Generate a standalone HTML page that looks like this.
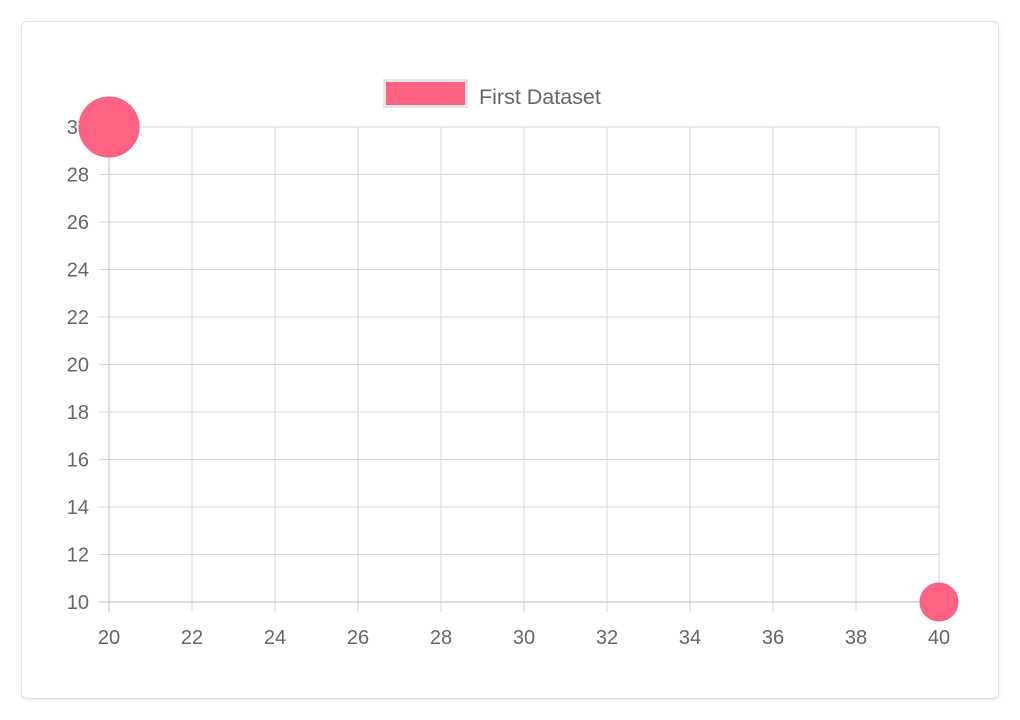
<!DOCTYPE html>
<html><head><meta charset="utf-8"><style>
body{margin:0;width:1020px;height:720px;background:#fff;font-family:"Liberation Sans",sans-serif;overflow:hidden}
#card{position:absolute;left:21px;top:21px;width:976px;height:676px;border:1px solid #cfe6e2;border-radius:6px;box-shadow:0 1px 3px rgba(0,0,0,0.1)}
svg{position:absolute;left:0;top:0}
</style></head><body>
<div id="card"></div>
<svg id="chart" width="1020" height="720">
<g>
<rect x="384.5" y="80.5" width="82" height="26" fill="#ff6384" stroke="#e6e6e6" stroke-width="3"/>
<text x="479" y="104" font-size="21.5" fill="#666">First Dataset</text>
</g>
<g id="grid"></g><g id="labels" font-size="20" fill="#666"></g><g id="marks"></g>
</svg>
<script>
const xTicks=[20,22,24,26,28,30,32,34,36,38,40];
const yTicks=[10,12,14,16,18,20,22,24,26,28,30];
const xVals=[20,40];
const yVals=[30,10];
const rVals=[30,19];
const NS='http://www.w3.org/2000/svg';
const X0=109,X1=939,Y0=602,Y1=127;
const xs=v=>X0+(v-20)/(40-20)*(X1-X0);
const ys=v=>Y0-(v-10)/(30-10)*(Y0-Y1);
const g=document.getElementById('grid'),l=document.getElementById('labels'),m=document.getElementById('marks');
function mk(tag,a,p){const e=document.createElementNS(NS,tag);for(const k in a)e.setAttribute(k,a[k]);p.appendChild(e);return e;}
xTicks.forEach(v=>{const x=xs(v);
const ln=mk('line',{x1:x,x2:x,y1:Y1,y2:Y0+10,stroke:v===20?'#bdbdbd':'#d6d6d6','stroke-width':1},g);


const t=mk('text',{x:x,y:644,'text-anchor':'middle'},l);t.textContent=v;

});
yTicks.forEach(v=>{const y=ys(v);
const ln=mk('line',{x1:X0-10,x2:X1,y1:y,y2:y,stroke:v===10?'#bdbdbd':'#d6d6d6','stroke-width':1},g);


const t=mk('text',{x:89,y:y+7,'text-anchor':'end'},l);t.textContent=v;

});
xVals.forEach((v,i)=>{const c=mk('circle',{cx:xs(v),cy:ys(yVals[i]),r:rVals[i],fill:'#ff6384',stroke:'#f0607f','stroke-width':1},m);

});
</script>
</body></html>
